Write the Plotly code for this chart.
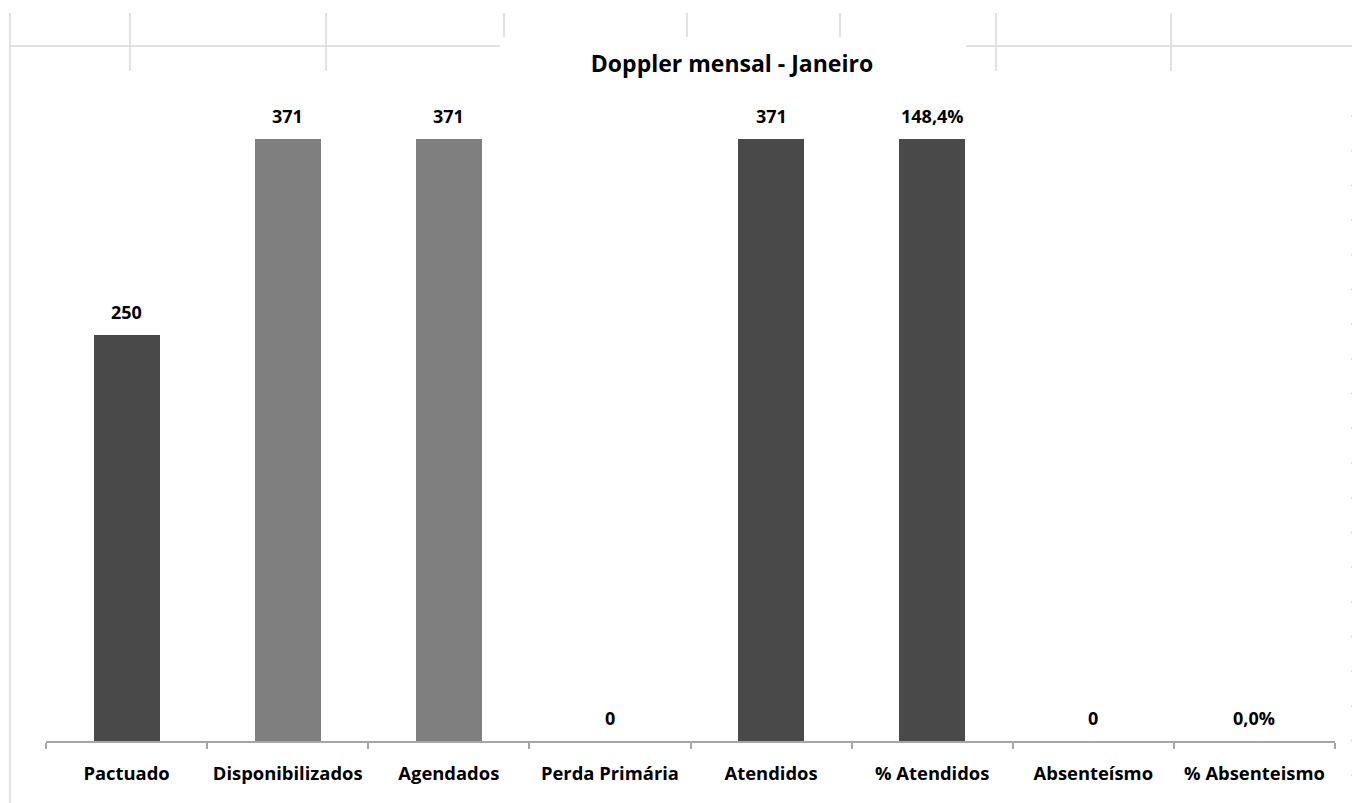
import plotly.graph_objects as go

categories = ["Pactuado", "Disponibilizados", "Agendados", "Perda Primária",
              "Atendidos", "% Atendidos", "Absenteísmo", "% Absenteismo"]
counts = [250, 371, 371, 0, 371, None, 0, None]
percents = [None, None, None, None, None, 148.4, None, 0.0]
count_colors = ["#494949", "#7f7f7f", "#7f7f7f", "#494949", "#494949", "#494949", "#494949", "#494949"]
pct_colors = ["#494949"] * 8
title_text = "Doppler mensal - Janeiro"

OFF = 8  # page body margin
FW, FH = 1360 - OFF, 803 - OFF
FONT = "Open Sans"


def px(x):
    return (x - OFF) / FW


def py(y):
    return 1 - (y - OFF) / FH


fig = go.Figure()
fig.add_trace(go.Bar(
    x=categories, y=counts, marker=dict(color=count_colors, line=dict(width=0)),
    width=0.41, offsetgroup="a", hoverinfo="x+y", showlegend=False, yaxis="y",
))
fig.add_trace(go.Bar(
    x=categories, y=percents, marker=dict(color=pct_colors, line=dict(width=0)),
    width=0.41, offsetgroup="a", hoverinfo="x+y", showlegend=False, yaxis="y2",
))

lab_font = dict(family=FONT, size=18, color="black", weight="bold")
annotations = []
for c, v in zip(categories, counts):
    if v is not None:
        annotations.append(dict(x=c, y=v, xref="x", yref="y", text=f"{v}",
                                showarrow=False, yanchor="middle", yshift=23,
                                font=lab_font))
for c, v in zip(categories, percents):
    if v is not None:
        annotations.append(dict(x=c, y=v, xref="x", yref="y2",
                                text=f"{v:.1f}%".replace(".", ","),
                                showarrow=False, yanchor="middle", yshift=23,
                                font=lab_font))

# spreadsheet grid fragments around the chart
grid = "#d9d9d9"
shapes = []
def seg(x0, y0, x1, y1, w=1.5):
    shapes.append(dict(type="line", xref="paper", yref="paper",
                       x0=px(x0), y0=py(y0), x1=px(x1), y1=py(y1),
                       line=dict(color=grid, width=w)))

seg(10, 13, 10, 803)
seg(10, 46, 500, 46)
seg(966, 46, 1360, 46)
for xv in [130, 326, 996, 1171]:
    seg(xv, 13, xv, 71)
for xv in [504, 687, 840]:
    seg(xv, 13, xv, 37)
for i in range(20):
    yv = 116 + i * 34.7
    seg(1351, yv, 1360, yv)

fig.update_layout(
    width=FW, height=FH,
    margin=dict(l=0, r=0, t=0, b=0),
    paper_bgcolor="white", plot_bgcolor="white",
    separators=",.",
    barmode="group",
    bargap=0, bargroupgap=0,
    showlegend=False,
    shapes=shapes,
    annotations=annotations,
    title=dict(text=title_text, x=px(732), y=py(64), xanchor="center", yanchor="middle",
               font=dict(family=FONT, size=23, color="black", weight="bold")),
    xaxis=dict(
        type="category", domain=[px(46), px(1335)],
        showline=True, linecolor="#a6a6a6", linewidth=1.5,
        ticks="outside", ticklen=6, tickcolor="#a6a6a6", tickwidth=1.5,
        tickson="boundaries", showgrid=False, zeroline=False, tickangle=0,
        tickfont=dict(family=FONT, size=18.4, color="black", weight="bold"),
        ticklabelstandoff=15, automargin=False,
    ),
    yaxis=dict(domain=[py(741), py(92)], range=[0, 400], visible=False,
               showgrid=False, zeroline=False),
    yaxis2=dict(overlaying="y", range=[0, 160], visible=False,
                showgrid=False, zeroline=False),
)

fig.write_html("out.html")
